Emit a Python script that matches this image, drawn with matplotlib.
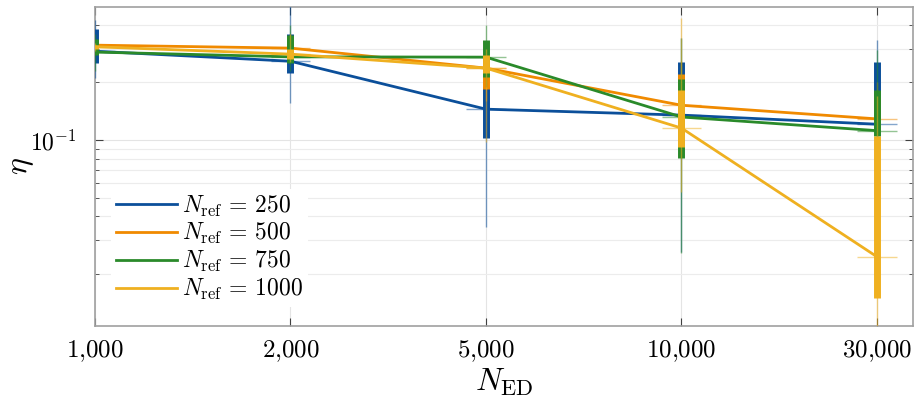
import numpy as np
import matplotlib
matplotlib.use("Agg")
import matplotlib.pyplot as plt

plt.rcParams['mathtext.fontset'] = 'cm'
plt.rcParams['font.family'] = 'serif'

# data
n_ed = ["1,000", "2,000", "5,000", "10,000", "30,000"]
labels = ["250", "500", "750", "1000"]
colors = ["#0b4f9a", "#f08a00", "#2a8a2a", "#efb020"]

blue_mid = [0.291, 0.258, 0.145, 0.135, 0.121]
blue_q1 = [0.254, 0.224, 0.102, 0.110, 0.130]
blue_q3 = [0.381, 0.357, 0.190, 0.256, 0.255]
blue_lo = [0.211, 0.156, 0.035, 0.026, 0.100]
blue_hi = [0.423, 0.520, 0.240, 0.340, 0.332]

orange_mid = [0.313, 0.302, 0.2375, 0.152, 0.129]
orange_q1 = [0.295, 0.290, 0.1845, 0.120, 0.115]
orange_q3 = [0.318, 0.345, 0.270, 0.221, 0.170]
orange_lo = [0.285, 0.275, 0.160, 0.100, 0.100]
orange_hi = [0.330, 0.360, 0.300, 0.260, 0.200]

green_mid = [0.288, 0.272, 0.271, 0.132, 0.112]
green_q1 = [0.278, 0.252, 0.213, 0.0806, 0.105]
green_q3 = [0.335, 0.353, 0.332, 0.208, 0.182]
green_lo = [0.230, 0.230, 0.190, 0.0257, 0.100]
green_hi = [0.360, 0.400, 0.398, 0.340, 0.295]

yellow_mid = [0.307, 0.281, 0.2375, 0.1155, 0.0246]
yellow_q1 = [0.298, 0.265, 0.224, 0.0919, 0.015]
yellow_q3 = [0.313, 0.300, 0.278, 0.182, 0.105]
yellow_lo = [0.290, 0.255, 0.098, 0.0535, 0.009]
yellow_hi = [0.320, 0.356, 0.300, 0.4345, 0.170]

mids = [blue_mid, orange_mid, green_mid, yellow_mid]
q1s = [blue_q1, orange_q1, green_q1, yellow_q1]
q3s = [blue_q3, orange_q3, green_q3, yellow_q3]
los = [blue_lo, orange_lo, green_lo, yellow_lo]
his = [blue_hi, orange_hi, green_hi, yellow_hi]

fig = plt.figure(figsize=(9.15, 4.03), dpi=100)
ax = fig.add_axes([0.1038, 0.191, 0.8942, 0.7916])
x = np.arange(len(n_ed))

for k in range(4):
    c = colors[k]
    z = 3 + k
    ax.vlines(x, los[k], his[k], color=c, lw=1.0, alpha=0.55, zorder=z)
    ax.vlines(x, q1s[k], q3s[k], color=c, lw=5, zorder=z + 0.1)
    ax.hlines(mids[k], x - 0.1, x + 0.1, color=c, lw=1.0, alpha=0.5, zorder=z)
    ax.plot(x, mids[k], color=c, lw=2, zorder=z + 0.2,
            label=r'$N_{\mathrm{ref}}\,=\,%s$' % labels[k])

ax.set_yscale('log')
ax.set_ylim(0.0107, 0.495)
ax.set_xlim(0, 4.185)
ax.set_xticks(x)
ax.set_xticklabels([r'$%s$' % s.replace(',', '{,}') for s in n_ed], fontsize=18)
ax.set_yticks([0.1])
ax.set_yticklabels([r'$10^{-1}$'], fontsize=17)
ax.tick_params(axis='y', which='minor', labelleft=False)
ax.tick_params(which='both', direction='in', top=True, right=True, color='#404040')
ax.tick_params(which='major', length=6)
ax.tick_params(which='minor', length=3)
ax.tick_params(axis='x', pad=9)
ax.tick_params(axis='y', pad=13)
ax.grid(True, which='major', color='#e4e4e4', lw=0.8)
ax.grid(True, which='minor', axis='y', color='#ececec', lw=0.8)
ax.set_axisbelow(True)
for s in ax.spines.values():
    s.set_color('#a0a0a0')
    s.set_linewidth(1.2)

ax.set_xlabel(r'$N_{\mathrm{ED}}$', fontsize=23, labelpad=2)
ax.set_ylabel(r'$\eta$', fontsize=23)
ax.yaxis.set_label_coords(-0.072, 0.5)

leg = ax.legend(loc='lower left', bbox_to_anchor=(0.02, 0.06), frameon=True,
                fontsize=17, handlelength=2.6, handletextpad=0.2, labelspacing=0.12,
                borderaxespad=0, borderpad=0.2, fancybox=False)
leg.get_frame().set_facecolor('white')
leg.get_frame().set_edgecolor('none')
leg.get_frame().set_alpha(1)

fig.savefig('out.png', dpi=100)
